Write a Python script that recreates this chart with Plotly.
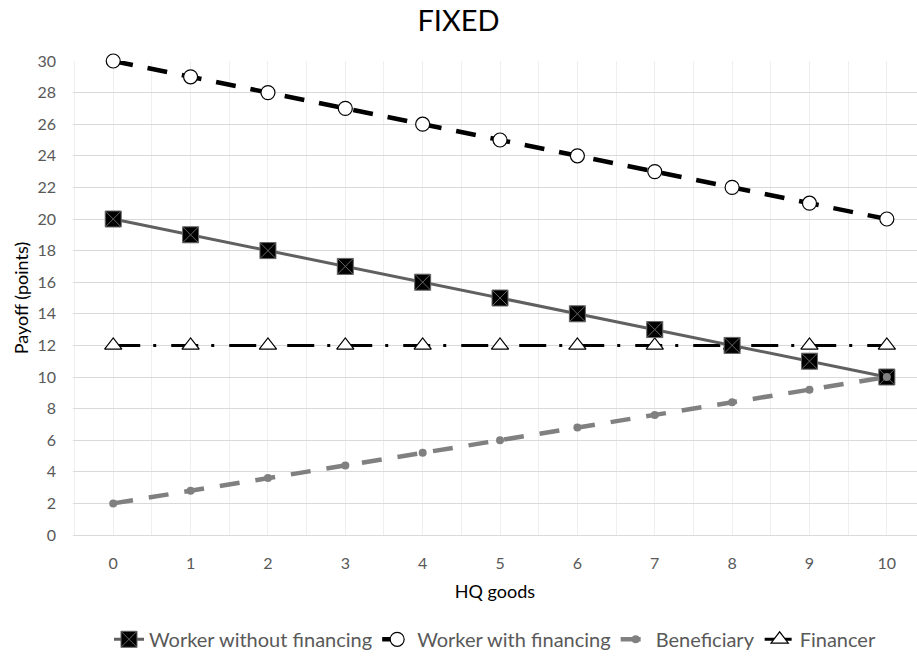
import plotly.graph_objects as go

hq_goods = [0, 1, 2, 3, 4, 5, 6, 7, 8, 9, 10]
worker_without = [20, 19, 18, 17, 16, 15, 14, 13, 12, 11, 10]
worker_with = [30, 29, 28, 27, 26, 25, 24, 23, 22, 21, 20]
beneficiary = [2, 2.8, 3.6, 4.4, 5.2, 6, 6.8, 7.6, 8.4, 9.2, 10]
financer = [12, 12, 12, 12, 12, 12, 12, 12, 12, 12, 12]
y_ticks = list(range(0, 31, 2))

FONT = "Lato, 'Open Sans', sans-serif"
TXT = "#595959"

fig = go.Figure()

fig.add_trace(go.Scatter(
    x=hq_goods, y=financer, name="Financer", legendrank=4,
    mode="lines+markers", cliponaxis=False,
    line=dict(color="#000000", width=3, dash="27px,13px,3px,15px"),
    marker=dict(symbol="triangle-up", size=15, color="#ffffff",
                line=dict(color="#000000", width=1.2)),
))
fig.add_trace(go.Scatter(
    x=hq_goods, y=worker_with, name="Worker with financing", legendrank=2,
    mode="lines+markers", cliponaxis=False,
    line=dict(color="#000000", width=4.5, dash="20px,15px"),
    marker=dict(symbol="circle", size=14, color="#ffffff",
                line=dict(color="#000000", width=1.2)),
))
fig.add_trace(go.Scatter(
    x=hq_goods, y=worker_without, name="Worker without financing", legendrank=1,
    mode="lines+markers", cliponaxis=False,
    line=dict(color="#606060", width=3),
    marker=dict(symbol="square-x", size=16, color="#000000",
                line=dict(color="#666666", width=1)),
))
fig.add_trace(go.Scatter(
    x=hq_goods, y=beneficiary, name="Beneficiary", legendrank=3,
    mode="lines+markers", cliponaxis=False,
    line=dict(color="#808080", width=4.5, dash="20px,16px"),
    marker=dict(symbol="circle", size=8, color="#808080",
                line=dict(color="#808080", width=0)),
))

fig.update_layout(
    width=917, height=659,
    margin=dict(l=73, r=0, t=61, b=122),
    paper_bgcolor="#ffffff", plot_bgcolor="#ffffff",
    font=dict(family=FONT, color=TXT, size=15),
    title=dict(text="FIXED", x=0.5, xanchor="center", y=0.969, yanchor="middle",
               font=dict(family=FONT, size=29, color="#000000")),
    showlegend=True,
    legend=dict(orientation="h", x=0.5, xanchor="center", y=-0.22, yanchor="middle",
                font=dict(family=FONT, size=20, color=TXT),
                itemwidth=30, traceorder="normal"),
    xaxis=dict(
        range=[-0.52, 10.39], tickvals=hq_goods, ticktext=[str(v) for v in hq_goods],
        showgrid=True, gridcolor="#efefef", gridwidth=1,
        minor=dict(tick0=0.5, dtick=1, showgrid=True, gridcolor="#efefef", gridwidth=1),
        zeroline=False, showline=True, linecolor="#d9d9d9", linewidth=1,
        ticks="", ticklabelstandoff=14,
        tickfont=dict(family=FONT, size=16, color=TXT),
        title=dict(text="HQ goods", standoff=14,
                   font=dict(family=FONT, size=18, color="#000000")),
    ),
    yaxis=dict(
        range=[0, 30], tickvals=y_ticks,
        showgrid=True, gridcolor="#d9d9d9", gridwidth=1,
        zeroline=False, showline=False, ticks="",
        ticklabelstandoff=16,
        tickfont=dict(family=FONT, size=16, color=TXT),
        title=dict(text="Payoff (points)", standoff=4,
                   font=dict(family=FONT, size=18, color="#000000")),
    ),
)

fig.write_html("out.html")
